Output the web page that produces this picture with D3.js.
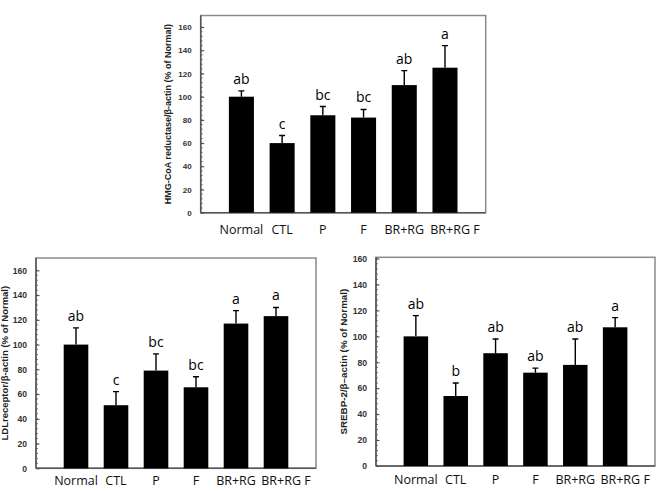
<!DOCTYPE html>
<html>
<head>
<meta charset="utf-8">
<script src="https://cdn.jsdelivr.net/npm/d3@7"></script>
<style>
  body { margin: 0; background: #fff; }
  svg { display: block; }
</style>
</head>
<body>
<div id="chart"></div>
<script>
// ---- data ----
var groups = ["Normal", "CTL", "P", "F", "BR+RG", "BR+RG F"];
var yTicks = [0, 20, 40, 60, 80, 100, 120, 140, 160];

var hmgMean = [100, 60, 84, 82, 110, 125];
var hmgSD = [5, 6.5, 7.5, 7, 12.5, 19];
var hmgLetters = ["ab", "c", "bc", "bc", "ab", "a"];

var ldlMean = [100, 51, 79, 65.5, 117, 123];
var ldlSD = [13.5, 11, 13.5, 8.5, 10.5, 7];
var ldlLetters = ["ab", "c", "bc", "bc", "a", "a"];

var srebpMean = [100, 54, 87, 72, 78, 107];
var srebpSD = [16, 10, 11, 3.5, 20, 7.5];
var srebpLetters = ["ab", "b", "ab", "ab", "ab", "a"];

var svg = d3.select("#chart")
            .append("svg")
            .attr("width", 659)
            .attr("height", 491);

drawPanel({means: hmgMean, sds: hmgSD, letters: hmgLetters,
           title: "HMG-CoA reductase/\u03b2-actin (% of Normal)",
           left: 200.7, top: 15.5, width: 285, height: 197.2, yMax: 170,
           titleX: 168, tickFont: 8, titleFont: 9, labelY: 17});

drawPanel({means: ldlMean, sds: ldlSD, letters: ldlLetters,
           title: "LDLreceptor/\u03b2-actin (% of Normal)",
           left: 36, top: 258, width: 280, height: 210.3, yMax: 170,
           titleX: 5, tickFont: 8.6, titleFont: 9.5, labelY: 12});

drawPanel({means: srebpMean, sds: srebpSD, letters: srebpLetters,
           title: "SREBP-2/\u03b2\u2013actin (%  of Normal)",
           left: 376, top: 257.3, width: 279, height: 208.7, yMax: 161,
           titleX: 343.5, tickFont: 8.6, titleFont: 9.8, labelY: 13.5});

function drawPanel(o) {
  var g = svg.append("g")
             .attr("transform", "translate(" + o.left + "," + o.top + ")");

  var x = d3.scalePoint()
            .domain(groups)
            .range([0, o.width])
            .padding(1);

  var y = d3.scaleLinear()
            .domain([0, o.yMax])
            .range([o.height, 0]);

  var barW = x.step() * 0.615;

  // frame
  g.append("rect")
   .attr("width", o.width)
   .attr("height", o.height)
   .attr("fill", "none")
   .attr("stroke", "#8a8a8a")
   .attr("stroke-width", 1.5);

  // minor ticks (inside)
  var minor = d3.range(0, 161, 4);
  g.selectAll(".minor")
   .data(minor)
   .enter()
   .append("line")
   .attr("x1", 0)
   .attr("x2", 2)
   .attr("y1", function(d) { return y(d); })
   .attr("y2", function(d) { return y(d); })
   .attr("stroke", "#555")
   .attr("stroke-width", 0.8);

  // y axis
  var yAxis = g.append("g")
               .call(d3.axisLeft(y).tickValues(yTicks).tickSize(-3.5).tickPadding(9));
  yAxis.select(".domain").remove();
  yAxis.selectAll("line").attr("stroke", "#444");
  yAxis.selectAll("text")
       .attr("fill", "#333")
       .style("font-family", "'Liberation Sans', Arial, sans-serif")
       .style("font-weight", "bold")
       .style("font-size", o.tickFont + "px");

  // axis lines
  g.append("line")
   .attr("x1", 0).attr("x2", 0)
   .attr("y1", 0).attr("y2", o.height)
   .attr("stroke", "#555").attr("stroke-width", 1.5);
  g.append("line")
   .attr("x1", 0).attr("x2", o.width)
   .attr("y1", o.height).attr("y2", o.height)
   .attr("stroke", "#555").attr("stroke-width", 1.5);

  // bars
  g.selectAll(".bar")
   .data(o.means)
   .enter()
   .append("rect")
   .attr("x", function(d, i) { return x(groups[i]) - barW / 2; })
   .attr("y", function(d) { return y(d); })
   .attr("width", barW)
   .attr("height", function(d) { return o.height - y(d); })
   .attr("fill", "#000");

  // error bars (upper only)
  g.selectAll(".err")
   .data(o.means)
   .enter()
   .append("path")
   .attr("d", function(d, i) {
     var cx = x(groups[i]);
     var top = y(d + o.sds[i]);
     return "M" + cx + "," + y(d) + "V" + top + "M" + (cx - 3) + "," + top + "H" + (cx + 3);
   })
   .attr("fill", "none")
   .attr("stroke", "#000")
   .attr("stroke-width", 1.4);

  // significance letters
  g.selectAll(".letter")
   .data(o.letters)
   .enter()
   .append("text")
   .attr("x", function(d, i) { return x(groups[i]); })
   .attr("y", function(d, i) { return y(o.means[i] + o.sds[i]) - 7; })
   .attr("text-anchor", "middle")
   .style("font-family", "'Open Sans', sans-serif")
   .style("font-size", "14px")
   .text(function(d) { return d; });

  // category labels
  g.selectAll(".cat")
   .data(groups)
   .enter()
   .append("text")
   .attr("x", function(d) { return x(d); })
   .attr("y", o.height + o.labelY)
   .attr("dx", function(d, i) { return i === groups.length - 1 ? "0.8em" : 0; })
   .attr("dy", "0.35em")
   .attr("text-anchor", "middle")
   .style("font-family", "'Open Sans', sans-serif")
   .style("font-size", "12.5px")
   .style("fill", "#111")
   .text(function(d) { return d; });

  // y title
  svg.append("text")
     .attr("transform", "translate(" + o.titleX + "," + (o.top + o.height / 2) + ") rotate(-90)")
     .attr("text-anchor", "middle")
     .attr("dy", "0.35em")
     .style("font-family", "'Liberation Sans', Arial, sans-serif")
     .style("font-weight", "bold")
     .style("font-size", o.titleFont + "px")
     .style("fill", "#222")
     .text(o.title);
}
</script>
</body>
</html>
